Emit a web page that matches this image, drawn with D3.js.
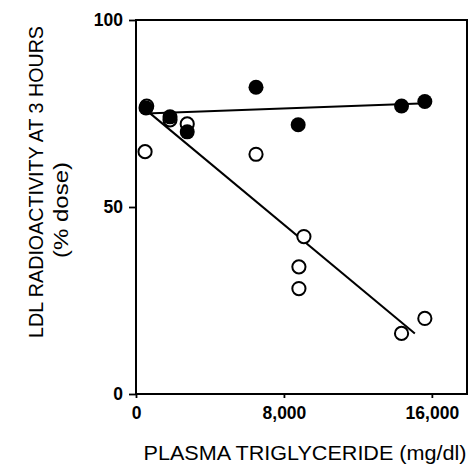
<!DOCTYPE html>
<html>
<head>
<meta charset="utf-8">
<script src="https://cdn.jsdelivr.net/npm/d3@7"></script>
<style>
  body { margin: 0; background: #fff; }
  text { font-family: "Liberation Sans", Arial, sans-serif; fill: #000; }
</style>
</head>
<body>
<div id="chart"></div>
<script>
// values
const xTicks = [0, 8000, 16000];
const yTicks = [0, 50, 100];

// filled circles
const filledTG  = [540, 1840, 2770, 6490, 8770, 14360, 15620];
const filledLDL = [76.5, 74.1, 70.1, 82.0, 72.0, 77.0, 78.2];

// open circles
const openTG  = [580, 490, 1840, 2770, 6490, 9080, 8810, 8810, 14360, 15620];
const openLDL = [77.0, 64.8, 73.3, 72.2, 64.1, 42.1, 34.0, 28.2, 16.2, 20.2];

// regression lines (end points)
const filledFitTG  = [540, 15350];
const filledFitLDL = [75.0, 77.7];
const openFitTG  = [650, 15080];
const openFitLDL = [75.5, 16.2];

const W = 469, H = 466;
const svg = d3.select("#chart").append("svg")
    .attr("width", W)
    .attr("height", H);

const x = d3.scaleLinear().domain([0, 17900]).range([136, 467]);
const y = d3.scaleLinear().domain([0, 100]).range([394, 20]);

// frame
svg.append("rect")
    .attr("x", x(0)).attr("y", y(100))
    .attr("width", x(17900) - x(0))
    .attr("height", y(0) - y(100))
    .attr("fill", "none")
    .attr("stroke", "#000")
    .attr("stroke-width", 2);

// axes
const yAxis = svg.append("g")
    .attr("transform", `translate(${x(0)},0)`)
    .call(d3.axisLeft(y).tickValues(yTicks).tickSize(7).tickPadding(6).tickFormat(d3.format("d")));

const xAxis = svg.append("g")
    .attr("transform", `translate(0,${y(0)})`)
    .call(d3.axisBottom(x).tickValues(xTicks).tickSize(4).tickPadding(9).tickFormat(d3.format(",")));

[yAxis, xAxis].forEach(g => {
  g.select(".domain").remove();
  g.selectAll(".tick line").attr("stroke", "#000").attr("stroke-width", 1.8);
  g.selectAll(".tick text")
    .attr("font-family", "Liberation Sans, Arial, sans-serif")
    .attr("font-size", 17.5)
    .attr("font-weight", "bold");
});

// fit lines
const line = d3.line().x(d => x(d[0])).y(d => y(d[1]));

svg.append("path")
    .datum(d3.zip(openFitTG, openFitLDL))
    .attr("d", line)
    .attr("fill", "none")
    .attr("stroke", "#000")
    .attr("stroke-width", 2);

svg.append("path")
    .datum(d3.zip(filledFitTG, filledFitLDL))
    .attr("d", line)
    .attr("fill", "none")
    .attr("stroke", "#000")
    .attr("stroke-width", 2);

// open points first, filled on top
svg.append("g").selectAll("circle")
  .data(d3.zip(openTG, openLDL))
  .join("circle")
    .attr("cx", d => x(d[0]))
    .attr("cy", d => y(d[1]))
    .attr("r", 6.6)
    .attr("fill", "#fff")
    .attr("stroke", "#000")
    .attr("stroke-width", 2);

svg.append("g").selectAll("circle")
  .data(d3.zip(filledTG, filledLDL))
  .join("circle")
    .attr("cx", d => x(d[0]))
    .attr("cy", d => y(d[1]))
    .attr("r", 7.5)
    .attr("fill", "#000");

// axis titles
svg.append("text")
    .attr("transform", "translate(43,182) rotate(-90)")
    .attr("text-anchor", "middle")
    .attr("font-size", 21)
    .attr("textLength", 312)
    .attr("lengthAdjust", "spacingAndGlyphs")
    .text("LDL RADIOACTIVITY AT 3 HOURS");

svg.append("text")
    .attr("transform", "translate(68,210) rotate(-90)")
    .attr("text-anchor", "middle")
    .attr("font-size", 21)
    .attr("textLength", 96)
    .attr("lengthAdjust", "spacingAndGlyphs")
    .text("(% dose)");

svg.append("text")
    .attr("x", 305)
    .attr("y", 460)
    .attr("text-anchor", "middle")
    .attr("font-size", 20)
    .attr("textLength", 323)
    .attr("lengthAdjust", "spacingAndGlyphs")
    .text("PLASMA TRIGLYCERIDE (mg/dl)");
</script>
</body>
</html>
